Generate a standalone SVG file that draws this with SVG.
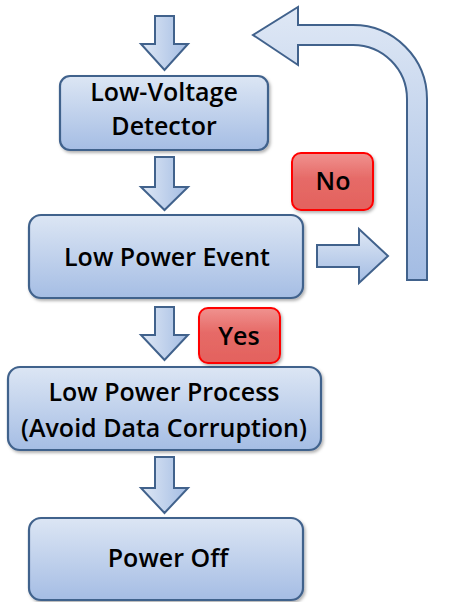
<svg xmlns="http://www.w3.org/2000/svg" width="462" height="602" viewBox="0 0 462 602">
  <defs>
    <linearGradient id="boxFill" x1="0" y1="0" x2="0" y2="1">
      <stop offset="0" stop-color="#dce6f4"/>
      <stop offset="1" stop-color="#a5bde4"/>
    </linearGradient>
    <linearGradient id="arrowDownFill" x1="0" y1="0" x2="1" y2="0">
      <stop offset="0" stop-color="#dfe8f5"/>
      <stop offset="1" stop-color="#a3bce3"/>
    </linearGradient>
    <linearGradient id="arrowVertFill" x1="0" y1="0" x2="0" y2="1">
      <stop offset="0" stop-color="#dfe8f5"/>
      <stop offset="1" stop-color="#a3bce3"/>
    </linearGradient>
    <linearGradient id="tagFill" x1="0" y1="0" x2="0" y2="1">
      <stop offset="0" stop-color="#f0928f"/>
      <stop offset="0.45" stop-color="#e66a67"/>
      <stop offset="1" stop-color="#e3625e"/>
    </linearGradient>
    <filter id="shadow" x="-10%" y="-10%" width="125%" height="130%">
      <feDropShadow dx="1.5" dy="2" stdDeviation="1.5" flood-color="#000" flood-opacity="0.3"/>
    </filter>
  </defs>
  <style>
    .box { fill: url(#boxFill); stroke: #41628c; stroke-width: 2.2; filter: url(#shadow); }
    .tag { fill: url(#tagFill); stroke: #ff0000; stroke-width: 2; filter: url(#shadow); }
    .arrow { stroke: #41628c; stroke-width: 2; stroke-linejoin: miter; }
    .down { fill: url(#arrowDownFill); }
    .vert { fill: url(#arrowVertFill); }
    text { font-family: "Open Sans", Lato, "Liberation Sans", sans-serif; font-weight: 600; fill: #000; text-anchor: middle; }
    .lbl { font-size: 25px; }
  </style>

  <!-- connectors: block arrows -->
  <g id="connectors">
    <path class="arrow down" d="M155,16 H174 V44 H188 L164.5,70 L141,44 H155 Z"/>
    <path class="arrow down" d="M155,157 H174 V187 H188 L164.5,210 L141,187 H155 Z"/>
    <path class="arrow down" d="M155,307 H174 V335 H188 L164.5,360 L141,335 H155 Z"/>
    <path class="arrow down" d="M155,457 H174 V488 H188 L164.5,513 L141,488 H155 Z"/>
    <path class="arrow vert" d="M317,245 H359 V229 L388,256 L359,283 V267 H317 Z"/>
    <path class="arrow vert" d="M407,280 V99 A54,54 0 0 0 353,45 H298 V65 L253,35 L298,7 V25 H353 A74,74 0 0 1 427,99 V280 Z"/>
  </g>

  <g id="low-voltage-detector">
    <rect class="box" x="60" y="76" width="208" height="74" rx="10"/>
    <text class="lbl" x="164" y="101">Low-Voltage</text>
    <text class="lbl" x="164" y="135">Detector</text>
  </g>

  <g id="low-power-event">
    <rect class="box" x="29" y="215" width="274" height="83" rx="12"/>
    <text class="lbl" x="167" y="266">Low Power Event</text>
  </g>

  <g id="low-power-process">
    <rect class="box" x="8" y="367" width="313" height="83" rx="12"/>
    <text class="lbl" x="164" y="401">Low Power Process</text>
    <text class="lbl" x="164" y="437">(Avoid Data Corruption)</text>
  </g>

  <g id="power-off">
    <rect class="box" x="29" y="518" width="274" height="82" rx="12"/>
    <text class="lbl" x="168" y="567">Power Off</text>
  </g>

  <g id="tag-no">
    <rect class="tag" x="292" y="153" width="81" height="57" rx="9"/>
    <text class="lbl" x="333" y="190">No</text>
  </g>

  <g id="tag-yes">
    <rect class="tag" x="199" y="308" width="81" height="55" rx="9"/>
    <text class="lbl" x="239" y="345">Yes</text>
  </g>
</svg>
